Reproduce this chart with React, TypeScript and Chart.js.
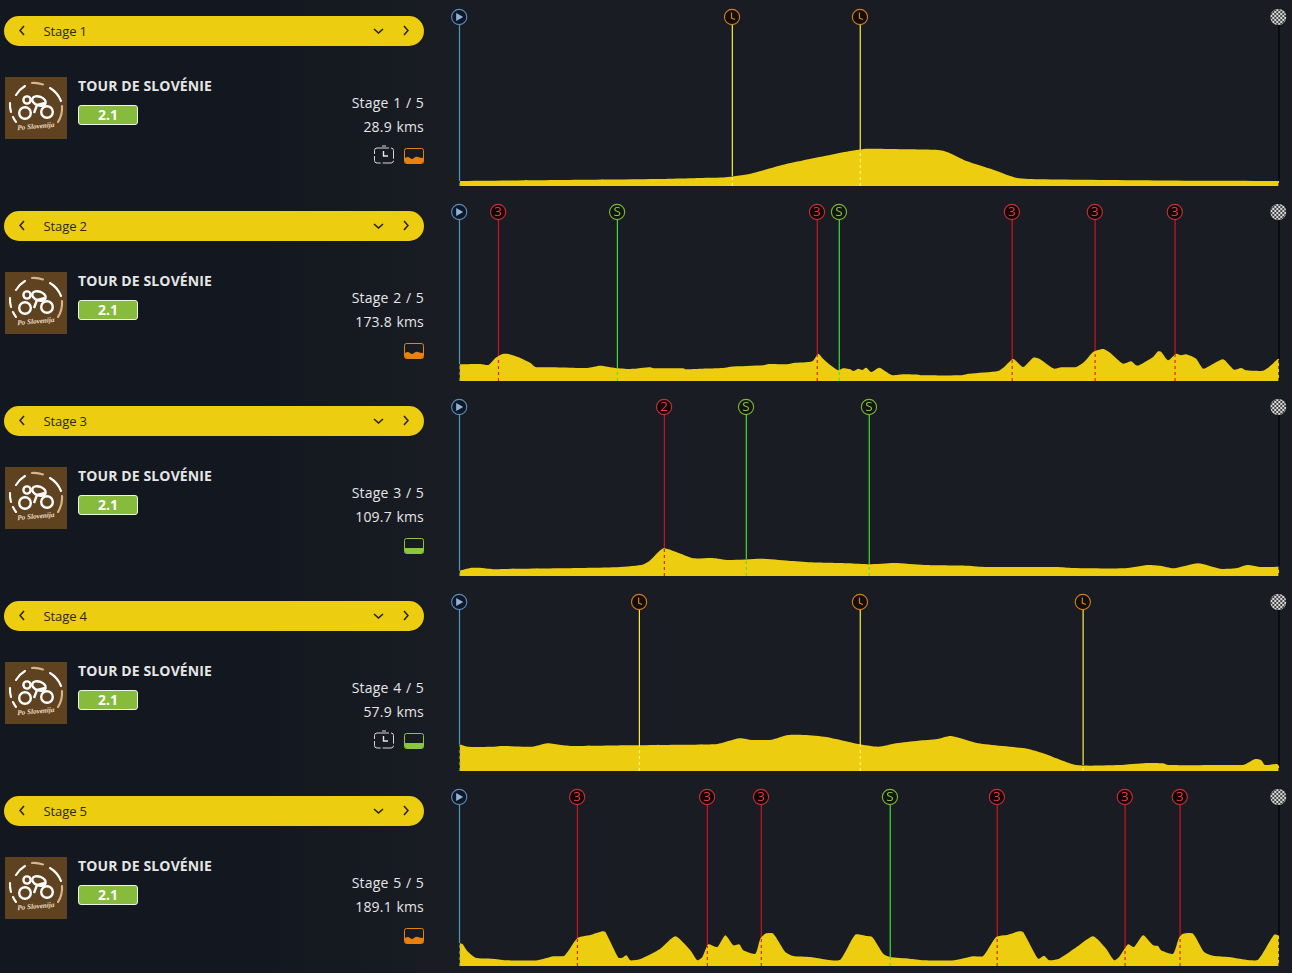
import React, { useEffect, useRef } from "react";
import { Chart, registerables } from "chart.js";

Chart.register(...registerables);

const YELLOW = "#edcd10";
const FONT = "'Open Sans', 'Noto Sans', sans-serif";

const stageKms = ["28.9", "173.8", "109.7", "57.9", "189.1"];
const stageKinds = ["hilly-time", "hilly", "flat", "flat-time", "hilly"];

const stage1Pos = [0, 100, 200, 241, 266, 291, 324, 374, 391, 408, 448, 484, 508, 534, 558, 581, 700, 820];
const stage1Elev = [5, 6, 7, 8, 8.7, 12.3, 21.3, 31.7, 35, 37.3, 36.7, 35.3, 24.7, 16.3, 8, 6.7, 5.5, 5];

const stage2Pos = [0, 21, 29, 36, 43, 49, 61, 71, 76, 94, 119, 128, 141, 156, 171, 191, 194, 224, 226, 241, 264, 271, 304, 309, 328, 334, 353, 359, 364, 371, 379, 384, 391, 394, 399, 403, 407, 412, 420, 430, 434, 444, 459, 462, 502, 510, 539, 545, 554, 564, 574, 580, 595, 602, 617, 625, 634, 644, 650, 664, 672, 677, 680, 694, 699, 702, 709, 717, 722, 727, 737, 744, 750, 764, 775, 782, 787, 804, 810, 819, 820];
const stage2Elev = [16.7, 17, 16, 23, 27, 27, 23, 18, 14, 13.7, 13, 13, 15.3, 13, 12, 13.7, 12.7, 12.7, 11.7, 12.3, 13, 14.3, 15.7, 17, 16.7, 18, 19.7, 27.3, 22, 16, 10.7, 12.7, 11.7, 10, 12.3, 11, 13.3, 9, 13.3, 7.3, 5.7, 6.7, 6.3, 5.7, 5.7, 7.3, 10, 14, 22, 14, 23.3, 22.3, 12.3, 13.7, 14, 19, 29, 32, 29, 17.3, 19.7, 15.7, 15.7, 24, 29.7, 29.3, 20.7, 27.3, 25.7, 26.7, 22.3, 12.3, 14.7, 21.7, 11.3, 13, 10.7, 10.3, 14, 22.3, 22];

const stage3Pos = [0, 11, 22, 35, 43, 103, 155, 182, 190, 204, 220, 234, 253, 269, 302, 329, 351, 389, 410, 435, 465, 508, 527, 598, 614, 666, 688, 701, 715, 739, 761, 777, 788, 802, 820];
const stage3Elev = [5.3, 8, 8, 6.7, 7, 7.7, 8.7, 11, 15, 27.7, 22.7, 17.7, 18, 16, 17.3, 15.3, 13.7, 12.7, 11.7, 13, 11, 10.3, 9, 9, 8, 7.7, 11, 10.3, 7.7, 12.7, 7.3, 7.7, 11, 9, 9.3];

const stage4Pos = [0, 8, 35, 43, 73, 88, 101, 114, 169, 220, 258, 280, 293, 312, 329, 345, 367, 399, 419, 437, 459, 478, 492, 519, 568, 584, 617, 660, 687, 704, 709, 769, 785, 796, 802, 806, 818, 820];
const stage4Elev = [26.7, 24.3, 24.3, 25, 24.3, 27.7, 26, 25, 25.7, 26.3, 27, 32.7, 31, 31.3, 36, 36, 34, 27, 24.3, 27.7, 30.3, 32, 35, 27.7, 22.3, 17.7, 6, 6, 8, 7.7, 6, 6, 6.3, 12, 11, 6, 7, 5];

const stage5Pos = [0, 3, 8, 16, 33, 46, 78, 94, 105, 118, 131, 143, 146, 159, 163, 167, 171, 181, 201, 216, 231, 238, 243, 249, 258, 266, 274, 280, 284, 296, 301, 306, 314, 326, 334, 351, 368, 381, 396, 407, 413, 424, 431, 450, 464, 495, 514, 524, 537, 549, 560, 564, 579, 585, 590, 600, 620, 634, 647, 655, 660, 669, 675, 684, 694, 699, 702, 714, 720, 724, 734, 745, 754, 770, 787, 799, 815, 820];
const stage5Elev = [23, 22, 14.7, 8.3, 7.3, 5.7, 5.7, 9.7, 10.3, 28, 31, 34.7, 34, 8.3, 8.3, 10.7, 5.7, 7, 17.3, 29.7, 15.7, 5.7, 9, 21.7, 19, 30.7, 20.7, 21.7, 15.7, 12.3, 27.3, 32.3, 32.3, 14, 10, 9, 6.3, 6.3, 31.3, 30, 29, 12.3, 9, 7.3, 5.7, 5.7, 9.7, 10, 29, 31.3, 34.7, 34, 7.3, 10.3, 5.7, 7.3, 20.7, 29.7, 17.3, 5.7, 9, 21.7, 19, 30.7, 20.7, 20, 15.7, 12.3, 28.3, 32.3, 32.3, 14, 10.3, 9, 6.3, 6.3, 31.3, 30.7];

const stage1MarkerPos = [273, 401];
const stage1MarkerKind = ["T", "T"];
const stage1MarkerElev = [10, 37];
const stage2MarkerPos = [39, 158, 358, 380, 553, 636, 716];
const stage2MarkerKind = ["3", "S", "3", "S", "3", "3", "3"];
const stage2MarkerElev = [23, 13, 27, 11, 21, 31, 27];
const stage3MarkerPos = [205, 287, 410];
const stage3MarkerKind = ["2", "S", "S"];
const stage3MarkerElev = [27, 17, 12];
const stage4MarkerPos = [180, 401, 624];
const stage4MarkerKind = ["T", "T", "T"];
const stage4MarkerElev = [26, 27, 6];
const stage5MarkerPos = [118, 248, 302, 431, 538, 666, 721];
const stage5MarkerKind = ["3", "3", "3", "S", "3", "3", "3"];
const stage5MarkerElev = [28, 20, 27, 9, 29, 20, 28];

const profilePos = [stage1Pos, stage2Pos, stage3Pos, stage4Pos, stage5Pos];
const profileElev = [stage1Elev, stage2Elev, stage3Elev, stage4Elev, stage5Elev];
const markerPos = [stage1MarkerPos, stage2MarkerPos, stage3MarkerPos, stage4MarkerPos, stage5MarkerPos];
const markerKind = [stage1MarkerKind, stage2MarkerKind, stage3MarkerKind, stage4MarkerKind, stage5MarkerKind];
const markerElev = [stage1MarkerElev, stage2MarkerElev, stage3MarkerElev, stage4MarkerElev, stage5MarkerElev];

const ROUTE_END = 820;
const AXIS_TOP = 186;
const ICON_LEVEL = 169;

function lineColours(kind: string) {
  if (kind === "S") return { solid: "#38e038", dash: "#53e04a" };
  if (kind === "T") return { solid: "#f8ee40", dash: "#fff27a" };
  if (kind === "start") return { solid: "#4a9ab8", dash: "#3f7d96" };
  if (kind === "finish") return { solid: "#000000", dash: "#14161b" };
  return { solid: "#d0141c", dash: "#e32222" };
}

function drawIcon(ctx: CanvasRenderingContext2D, kind: string, x: number, y: number) {
  ctx.save();
  const r = 7.6;
  if (kind === "finish") {
    ctx.beginPath();
    ctx.arc(x, y, 8, 0, Math.PI * 2);
    ctx.clip();
    ctx.fillStyle = "#d8d8d8";
    ctx.fillRect(x - 8, y - 8, 16, 16);
    ctx.fillStyle = "#454545";
    for (let i = 0; i < 8; i++) {
      for (let j = 0; j < 8; j++) {
        if ((i + j) % 2 === 0) ctx.fillRect(x - 8 + i * 2, y - 8 + j * 2, 2, 2);
      }
    }
    ctx.restore();
    return;
  }
  const palette: Record<string, string> = { S: "#7fb53a", T: "#d87c1c", start: "#5d8cbc" };
  const ring = palette[kind] || "#c83036";
  ctx.beginPath();
  ctx.arc(x, y, r, 0, Math.PI * 2);
  ctx.fillStyle = kind === "start" ? "#0e1826" : kind === "S" ? "#10160e" : kind === "T" ? "#120e0a" : "#120608";
  ctx.fill();
  ctx.strokeStyle = ring;
  ctx.lineWidth = 1.1;
  ctx.stroke();
  if (kind === "start") {
    ctx.fillStyle = "#8fb4dc";
    ctx.beginPath();
    ctx.moveTo(x - 3, y - 4);
    ctx.lineTo(x + 4, y);
    ctx.lineTo(x - 3, y + 4);
    ctx.closePath();
    ctx.fill();
  } else if (kind === "T") {
    ctx.strokeStyle = ring;
    ctx.lineWidth = 1.2;
    ctx.beginPath();
    ctx.moveTo(x - 0.5, y - 4.5);
    ctx.lineTo(x - 0.5, y + 1);
    ctx.lineTo(x + 3, y + 2.5);
    ctx.stroke();
  } else {
    ctx.fillStyle = kind === "S" ? "#8cc63f" : "#ee3b3b";
    ctx.font = `500 13.5px ${FONT}`;
    ctx.textAlign = "center";
    ctx.textBaseline = "middle";
    ctx.fillText(kind, x, y + 0.5);
  }
  ctx.restore();
}

function ProfileChart({ index }: { index: number }) {
  const ref = useRef<HTMLCanvasElement>(null);
  useEffect(() => {
    const pos = profilePos[index];
    const elev = profileElev[index];
    const marks = [
      { p: 0, k: "start", e: elev[0] },
      ...markerPos[index].map((p, i) => ({ p, k: markerKind[index][i], e: markerElev[index][i] })),
      { p: ROUTE_END, k: "finish", e: elev[elev.length - 1] },
    ];
    const datasets: any[] = [
      {
        label: `Stage ${index + 1} profile`,
        data: pos.map((x, i) => ({ x, y: elev[i] })),
        borderWidth: 0,
        borderColor: YELLOW,
        backgroundColor: YELLOW,
        fill: "origin",
        pointRadius: 0,
        tension: 0.2,
        order: 1,
      },
    ];
    marks.forEach((m) => {
      const c = lineColours(m.k);
      datasets.push({
        data: [{ x: m.p, y: m.e }, { x: m.p, y: ICON_LEVEL }],
        borderColor: c.solid,
        borderWidth: 1.2,
        pointRadius: 0,
        clip: false,
        order: 2,
      });
      datasets.push({
        data: [{ x: m.p, y: 0 }, { x: m.p, y: m.e }],
        borderColor: c.dash,
        borderWidth: 1.2,
        borderDash: [3, 3],
        pointRadius: 0,
        clip: false,
        order: 0,
      });
    });
    const iconPlugin = {
      id: "stageIcons",
      afterDraw(chart: any) {
        const { ctx, scales } = chart;
        marks.forEach((m) => {
          const px = scales.x.getPixelForValue(m.p);
          drawIcon(ctx, m.k, px - (m.k === "finish" ? 0.7 : 0.3), scales.y.getPixelForValue(ICON_LEVEL));
        });
      },
    };
    const chart = new Chart(ref.current as HTMLCanvasElement, {
      type: "line",
      data: { datasets },
      options: {
        animation: false,
        responsive: false,
        maintainAspectRatio: false,
        devicePixelRatio: 1,
        parsing: false,
        normalized: true,
        layout: { padding: { left: 19.5, right: 13, top: 0, bottom: 9 } },
        plugins: { legend: { display: false }, tooltip: { enabled: false } },
        events: [],
        scales: {
          x: { type: "linear", min: 0, max: ROUTE_END, display: false },
          y: { type: "linear", min: 0, max: AXIS_TOP, display: false },
        },
      } as any,
      plugins: [iconPlugin],
    });
    return () => chart.destroy();
  }, [index]);
  return (
    <canvas
      ref={ref}
      width={852}
      height={195}
      style={{ position: "absolute", left: 440, top: 0, width: 852, height: 195, display: "block" }}
    />
  );
}

function Chevron({ dir, x }: { dir: "left" | "right" | "down"; x: number }) {
  const d = dir === "left" ? "M4 0 L0 4.5 L4 9" : dir === "right" ? "M0 0 L4 4.5 L0 9" : "M0 0 L4.5 4 L9 0";
  const w = dir === "down" ? 9 : 4;
  const h = dir === "down" ? 4 : 9;
  return (
    <svg
      width={w + 2}
      height={h + 2}
      viewBox={`-1 -1 ${w + 2} ${h + 2}`}
      style={{ position: "absolute", left: x - w / 2 - 1, top: 15 - h / 2 - 1 - 0.5 }}
    >
      <path d={d} fill="none" stroke="#2a2508" strokeWidth={1.6} />
    </svg>
  );
}

function Logo() {
  const tan = "#d9b48f";
  return (
    <svg width={62} height={62} viewBox="0 0 62 62" style={{ position: "absolute", left: 5, top: 77 }}>
      <rect width={62} height={62} fill="#5f4320" />
      <g fill="none" strokeWidth={2.1} strokeLinecap="round">
        <path d="M11 18 A 26 26 0 0 1 20 9" stroke="#fff" />
        <path d="M27 6 A 26 26 0 0 1 38 7.5" stroke={tan} />
        <path d="M45 11 A 26 26 0 0 1 56 24" stroke="#fff" />
        <path d="M57 29 A 26 26 0 0 1 53 45" stroke={tan} />
        <path d="M5 26 A 26 26 0 0 0 6 35" stroke="#fff" />
        <path d="M8 40 A 26 26 0 0 0 11 45" stroke="#fff" />
      </g>
      <g fill="none" stroke="#fff" strokeWidth={2.4}>
        <circle cx={22} cy={23} r={3.6} />
        <circle cx={20} cy={36} r={5.8} />
        <circle cx={42} cy={35} r={5.8} />
        <ellipse cx={34} cy={24} rx={7} ry={4.4} transform="rotate(20 34 24)" />
        <path d="M29 36 L32 28 L40 26" />
      </g>
      <text
        x={31}
        y={51.5}
        fill="#f0dcc4"
        fontSize={7.2}
        fontWeight={700}
        fontStyle="italic"
        fontFamily="'Liberation Serif', serif"
        textAnchor="middle"
        transform="rotate(-5 31 51)"
      >
        Po Slovenija
      </text>
    </svg>
  );
}

function TimerIcon() {
  return (
    <svg width={20} height={19} viewBox="0 0 20 19" style={{ position: "absolute", left: 374, top: 145 }}>
      <rect x={0.5} y={3} width={19} height={15} rx={2.5} fill="none" stroke="#d8d8d8" strokeWidth={1} strokeDasharray="12 2" />
      <path d="M8 1 H12" stroke="#d8d8d8" strokeWidth={1} />
      <path d="M9.5 6 V11 H14" stroke="#e8e8e8" strokeWidth={1.4} fill="none" />
    </svg>
  );
}

function TerrainIcon({ colour }: { colour: string }) {
  return (
    <svg width={20} height={16} viewBox="0 0 20 16" style={{ position: "absolute", left: 404, top: 148 }}>
      <rect x={0.5} y={0.5} width={19} height={15} rx={2} fill="none" stroke={colour} strokeWidth={1} />
      <path
        d={
          colour === "#8cc63f"
            ? "M1 10 H19 V13.5 Q19 15 17.5 15 H2.5 Q1 15 1 13.5 Z"
            : "M1 10 Q4 8 6 10 T10 10 T14 9 T19 10 V13.5 Q19 15 17.5 15 H2.5 Q1 15 1 13.5 Z"
        }
        fill={colour}
      />
    </svg>
  );
}

function StageRow({ index }: { index: number }) {
  const kind = stageKinds[index];
  const colour = kind.startsWith("flat") ? "#8cc63f" : "#e8820c";
  const infoStyle: React.CSSProperties = {
    position: "absolute",
    right: 1292 - 424,
    lineHeight: "20px",
    fontSize: 14,
    letterSpacing: 0.2,
    wordSpacing: 0.7,
    color: "#e6e6e6",
    fontFamily: FONT,
    whiteSpace: "nowrap",
  };
  return (
    <div style={{ position: "absolute", left: 0, top: index * 195, width: 1292, height: 195 }}>
      <div
        style={{
          position: "absolute",
          left: 4,
          top: 16,
          width: 420,
          height: 30,
          borderRadius: 15,
          background: YELLOW,
        }}
      >
        <Chevron dir="left" x={18} />
        <span
          style={{
            position: "absolute",
            left: 39.5,
            top: 0,
            lineHeight: "30px",
            fontSize: 13,
            letterSpacing: -0.1,
            color: "#2b2a20",
            fontFamily: FONT,
          }}
        >
          {`Stage ${index + 1}`}
        </span>
        <Chevron dir="down" x={374} />
        <Chevron dir="right" x={402} />
      </div>
      <Logo />
      <div
        style={{
          position: "absolute",
          left: 78,
          top: 76,
          lineHeight: "20px",
          fontSize: 14,
          fontWeight: 700,
          letterSpacing: 0.12,
          color: "#e6e6e6",
          fontFamily: FONT,
        }}
      >
        TOUR DE SLOVÉNIE
      </div>
      <div
        style={{
          position: "absolute",
          left: 78,
          top: 105,
          width: 58,
          height: 18,
          border: "1px solid #eef3e6",
          borderRadius: 3,
          background: "#86bb3c",
          color: "#fff",
          fontSize: 14,
          fontWeight: 700,
          lineHeight: "18px",
          textAlign: "center",
          fontFamily: FONT,
        }}
      >
        2.1
      </div>
      <div style={{ ...infoStyle, top: 93 }}>{`Stage ${index + 1} / 5`}</div>
      <div style={{ ...infoStyle, top: 117 }}>{`${stageKms[index]} kms`}</div>
      {kind.endsWith("time") ? <TimerIcon /> : null}
      <TerrainIcon colour={colour} />
      <ProfileChart index={index} />
    </div>
  );
}

export default function App() {
  return (
    <div
      style={{
        position: "absolute",
        left: 0,
        top: 0,
        width: 1292,
        height: 973,
        overflow: "hidden",
        background: "linear-gradient(90deg, #13171f 0px, #13171f 260px, #191c23 450px, #191c23 1292px)",
      }}
    >
      {stageKms.map((_, i) => (
        <StageRow key={i} index={i} />
      ))}
    </div>
  );
}
